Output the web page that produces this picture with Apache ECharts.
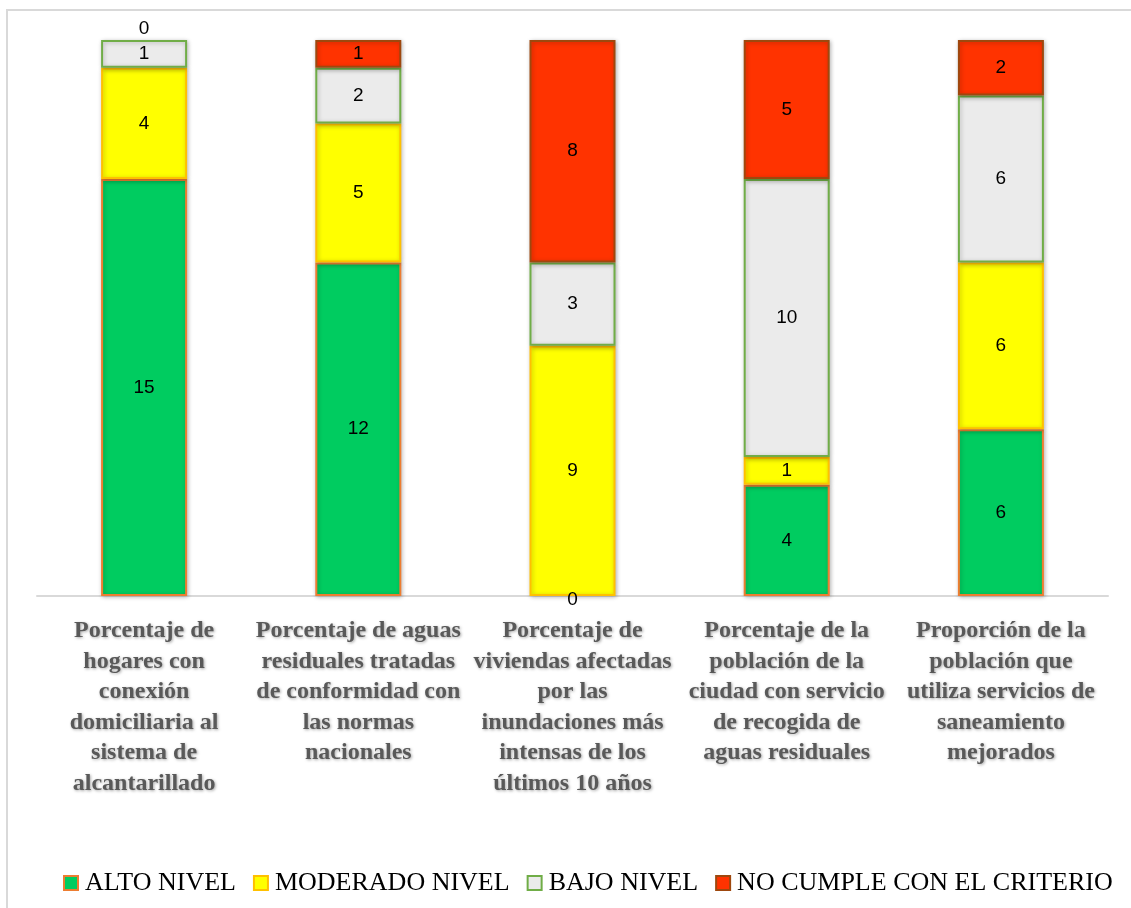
<!DOCTYPE html>
<html>
<head>
<meta charset="UTF-8">
<title>Indicadores de saneamiento</title>
<script src="https://cdn.jsdelivr.net/npm/echarts@6/dist/echarts.min.js"></script>
<style>
  html, body { margin: 0; padding: 0; background: #fff; }
  #chart { width: 1131px; height: 908px; }
</style>
</head>
<body>
<div id="chart"></div>
<script>
    // datos
    var categorias = [
        'Porcentaje de\nhogares con\nconexión\ndomiciliaria al\nsistema de\nalcantarillado',
        'Porcentaje de aguas\nresiduales tratadas\nde conformidad con\nlas normas\nnacionales',
        'Porcentaje de\nviviendas afectadas\npor las\ninundaciones más\nintensas de los\núltimos 10 años',
        'Porcentaje de la\npoblación de la\nciudad con servicio\nde recogida de\naguas residuales',
        'Proporción de la\npoblación que\nutiliza servicios de\nsaneamiento\nmejorados'
    ];
    var altoNivel = [15, 12, 0, 4, 6];
    var moderadoNivel = [4, 5, 9, 1, 6];
    var bajoNivel = [1, 2, 3, 10, 6];
    var noCumple = [0, 1, 8, 5, 2];

    var nombres = ['ALTO NIVEL', 'MODERADO NIVEL', 'BAJO NIVEL', 'NO CUMPLE CON EL CRITERIO'];
    var rellenos = ['#00CC60', '#FFFF00', '#EBEBEB', '#FF3300'];
    var bordes = ['#ED7D31', '#FFC000', '#70AD47', '#9E480E'];

    function serie(i, valores, ultimo) {
        return {
            name: nombres[i],
            type: 'bar',
            stack: 'total',
            barWidth: 86,
            data: valores.map(function (v) {
                if (v === 0) {
                    // barra vacia: sin borde; el cero superior va encima
                    var item = { value: v, itemStyle: { borderWidth: 0, shadowBlur: 0 } };
                    item.label = ultimo ? { position: 'top', distance: 2 } : { offset: [0, 4] };
                    return item;
                }
                return v;
            }),
            itemStyle: {
                color: rellenos[i],
                borderColor: bordes[i],
                borderWidth: 2,
                shadowColor: 'rgba(0,0,0,0.25)',
                shadowBlur: 4,
                shadowOffsetX: 1,
                shadowOffsetY: 1
            },
            label: {
                show: true,
                position: 'inside',
                color: '#000',
                fontFamily: 'Liberation Sans',
                fontSize: 19
            }
        };
    }

    var myChart = echarts.init(document.getElementById('chart'));

    var option = {
        animation: false,
        backgroundColor: '#fff',
        graphic: [{
            type: 'rect',
            shape: { x: 7, y: 10, width: 1300, height: 1100 },
            style: { fill: 'none', stroke: '#D9D9D9', lineWidth: 2 },
            silent: true
        }],
        grid: {
            left: 37,
            right: 23,
            top: 40,
            bottom: 312
        },
        legend: {
            bottom: 12,
            left: 63,
            width: 1068,
            padding: 0,
            itemWidth: 14,
            itemHeight: 14,
            itemGap: 17,
            icon: 'rect',
            textStyle: {
                color: '#000',
                fontFamily: 'Liberation Serif',
                fontSize: 26,
                padding: [0, 0, 0, 2]
            },
            data: nombres
        },
        xAxis: {
            type: 'category',
            data: categorias,
            axisLine: { lineStyle: { color: '#D9D9D9', width: 2 } },
            axisTick: { show: false },
            axisLabel: {
                interval: 0,
                margin: 20,
                color: '#595959',
                fontFamily: 'Liberation Serif',
                fontWeight: 'bold',
                fontSize: 24,
                lineHeight: 30.5,
                textShadowColor: 'rgba(0,0,0,0.35)',
                textShadowBlur: 3,
                textShadowOffsetX: 1,
                textShadowOffsetY: 1
            }
        },
        yAxis: {
            type: 'value',
            min: 0,
            max: 20,
            show: false,
            splitLine: { show: false }
        },
        series: [
            serie(0, altoNivel, false),
            serie(1, moderadoNivel, false),
            serie(2, bajoNivel, false),
            serie(3, noCumple, true)
        ]
    };
    myChart.setOption(option);
</script>
</body>
</html>
